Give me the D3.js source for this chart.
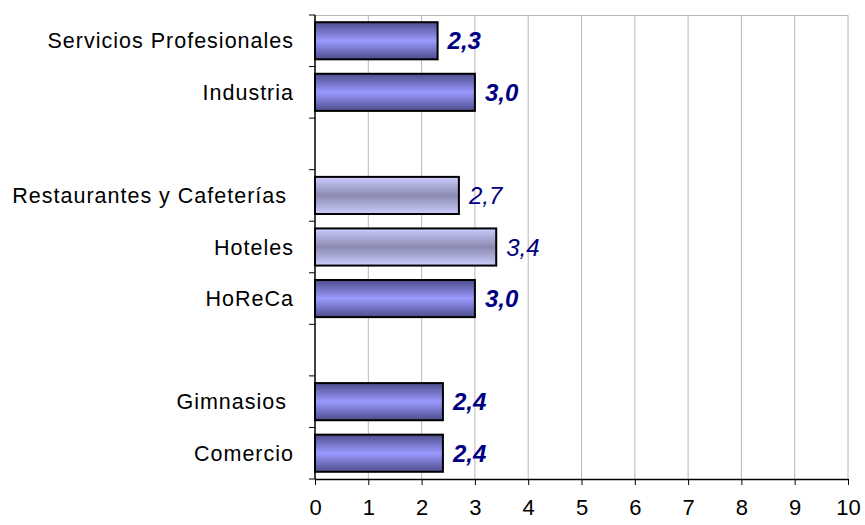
<!DOCTYPE html>
<html>
<head>
<meta charset="utf-8">
<script src="https://cdn.jsdelivr.net/npm/d3@7"></script>
<style>
  body { margin: 0; background: #fff; }
  svg { font-family: "Liberation Sans", Arial, sans-serif; }
  .cat-label { white-space: pre; }
</style>
</head>
<body>
<div id="chart"></div>
<script>
const WIDTH = 865
const HEIGHT = 525

// blank strings are the empty separator rows
const categories = ["Servicios Profesionales", "Industria", "", "Restaurantes y Cafeterías ", "Hoteles", "HoReCa", "", "Gimnasios ", "Comercio"]
const values = [2.3, 3.0, null, 2.7, 3.4, 3.0, null, 2.4, 2.4]
const highlight = [true, true, false, false, false, true, false, true, true]
const xTicks = [0, 1, 2, 3, 4, 5, 6, 7, 8, 9, 10]

const margin = {top: 15, right: 17, bottom: 46, left: 315}

const rows = categories.map((c, i) => ({i: i, label: c, value: values[i], strong: highlight[i]}))

const svg = d3.select("#chart")
  .append("svg")
  .attr("width", WIDTH)
  .attr("height", HEIGHT)

const defs = svg.append("defs")

const darkGrad = defs.append("linearGradient")
  .attr("id", "grad-dark")
  .attr("x1", 0).attr("y1", 0).attr("x2", 0).attr("y2", 1)
darkGrad.append("stop").attr("offset", "0%").attr("stop-color", "#4d4d8c")
darkGrad.append("stop").attr("offset", "50%").attr("stop-color", "#9a9aff")
darkGrad.append("stop").attr("offset", "100%").attr("stop-color", "#4d4d8c")

const lightGrad = defs.append("linearGradient")
  .attr("id", "grad-light")
  .attr("x1", 0).attr("y1", 0).attr("x2", 0).attr("y2", 1)
lightGrad.append("stop").attr("offset", "0%").attr("stop-color", "#ccccff")
lightGrad.append("stop").attr("offset", "50%").attr("stop-color", "#8a8ab0")
lightGrad.append("stop").attr("offset", "100%").attr("stop-color", "#ccccff")

const x = d3.scaleLinear()
  .domain([0, 10])
  .range([margin.left, WIDTH - margin.right])

const y = d3.scaleBand()
  .domain(rows.map(d => d.i))
  .range([margin.top, HEIGHT - margin.bottom])
  .paddingInner(0.28)
  .paddingOuter(0.14)

const yOuter = d3.scaleLinear()
  .domain([0, rows.length])
  .range([margin.top, HEIGHT - margin.bottom])

// gridlines
svg.append("g")
  .selectAll("line")
  .data(xTicks.slice(1))
  .join("line")
  .attr("x1", d => x(d))
  .attr("x2", d => x(d))
  .attr("y1", margin.top)
  .attr("y2", HEIGHT - margin.bottom)
  .attr("stroke", "#b8b8b8")
  .attr("stroke-width", 1)

svg.append("line")
  .attr("x1", x(0))
  .attr("x2", x(10))
  .attr("y1", margin.top + 0.5)
  .attr("y2", margin.top + 0.5)
  .attr("stroke", "#b8b8b8")

// bars
const bars = rows.filter(d => d.value != null)

svg.append("g")
  .selectAll("rect")
  .data(bars)
  .join("rect")
  .attr("x", x(0))
  .attr("y", d => y(d.i))
  .attr("width", d => x(d.value) - x(0))
  .attr("height", y.bandwidth())
  .attr("fill", d => d.strong ? "url(#grad-dark)" : "url(#grad-light)")
  .attr("stroke", "#000")
  .attr("stroke-width", 2)

// value labels
svg.append("g")
  .selectAll("text")
  .data(bars)
  .join("text")
  .attr("x", d => x(d.value) + 10)
  .attr("y", d => y(d.i) + y.bandwidth() / 2)
  .attr("dy", "0.36em")
  .attr("fill", "#000080")
  .attr("font-size", 24)
  .attr("font-style", "italic")
  .attr("font-weight", d => d.strong ? "bold" : "normal")
  .text(d => d3.format(".1f")(d.value).replace(".", ","))

// category labels
svg.append("g")
  .selectAll("text")
  .data(rows)
  .join("text")
  .attr("class", "cat-label")
  .attr("x", margin.left - 21)
  .attr("y", d => y(d.i) + y.bandwidth() / 2)
  .attr("dy", "0.35em")
  .attr("text-anchor", "end")
  .attr("font-size", 21.5)
  .attr("letter-spacing", 1)
  .attr("fill", "#000")
  .text(d => d.label)

// y axis line with ticks between rows
svg.append("line")
  .attr("x1", x(0))
  .attr("x2", x(0))
  .attr("y1", margin.top)
  .attr("y2", HEIGHT - margin.bottom)
  .attr("stroke", "#000")
  .attr("stroke-width", 1.5)

svg.append("g")
  .selectAll("line")
  .data(d3.range(rows.length + 1))
  .join("line")
  .attr("x1", x(0) - 6)
  .attr("x2", x(0))
  .attr("y1", d => yOuter(d))
  .attr("y2", d => yOuter(d))
  .attr("stroke", "#000")

// x axis
const xAxis = svg.append("g")
  .attr("transform", `translate(0,${HEIGHT - margin.bottom})`)
  .call(d3.axisBottom(x).tickValues(xTicks).tickSize(6).tickSizeOuter(0).tickPadding(14))

xAxis.select(".domain").attr("stroke", "#000").attr("stroke-width", 1.5)
xAxis.selectAll(".tick line").attr("stroke", "#000")
xAxis.selectAll(".tick text")
  .attr("font-size", 22)
  .attr("font-family", "Liberation Sans, Arial, sans-serif")
  .attr("fill", "#000")
</script>
</body>
</html>
